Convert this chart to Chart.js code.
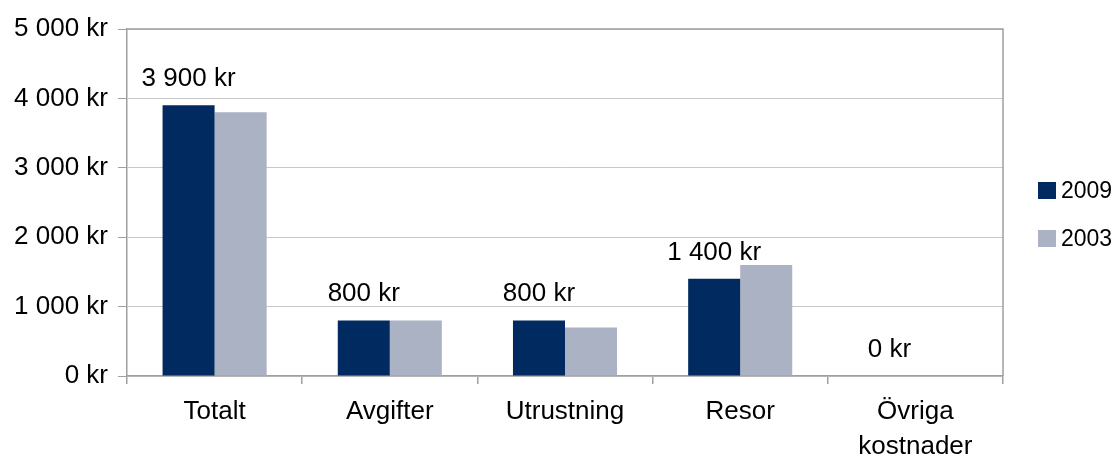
<!DOCTYPE html>
<html>
<head>
<meta charset="utf-8">
<script src="https://cdn.jsdelivr.net/npm/chart.js@4"></script>
<style>
  html, body { margin: 0; padding: 0; background: #fff; }
  #wrap { width: 1119px; height: 456px; }
</style>
</head>
<body>
<div id="wrap"><canvas id="barChart"></canvas></div>
<script>
const categories = ['Totalt', 'Avgifter', 'Utrustning', 'Resor', ['Övriga', 'kostnader']];
const values2009 = [3900, 800, 800, 1400, 0];
const values2003 = [3800, 800, 700, 1600, 0];
const seriesNames = ['2009', '2003'];

const COLORS = { dark: '#002a60', light: '#abb2c4' };
const FONT = '"Liberation Sans", Arial, sans-serif';

function formatKr(v) {
    return String(v).replace(/\B(?=(\d{3})+(?!\d))/g, ' ') + ' kr';
}

// frame round the plot area, value labels on 2009, legend at right
const extras = {
    id: 'extras',
    afterDraw(chart) {
        const ctx = chart.ctx;
        const a = chart.chartArea;
        ctx.save();
        ctx.strokeStyle = '#a0a0a0';
        ctx.lineWidth = 1.5;
        ctx.beginPath();
        ctx.moveTo(a.left, a.top);
        ctx.lineTo(a.right, a.top);
        ctx.lineTo(a.right, a.bottom);
        ctx.stroke();

        ctx.fillStyle = '#000';
        ctx.font = '26px ' + FONT;
        ctx.textAlign = 'center';
        ctx.textBaseline = 'alphabetic';
        chart.getDatasetMeta(0).data.forEach((bar, i) => {
            ctx.fillText(formatKr(values2009[i]), bar.x, bar.y - 19);
        });

        ctx.font = '23px ' + FONT;
        ctx.textAlign = 'left';
        const items = [[seriesNames[0], COLORS.dark], [seriesNames[1], COLORS.light]];
        items.forEach((it, i) => {
            const y = 182 + i * 48;
            ctx.fillStyle = it[1];
            ctx.fillRect(1038, y, 18, 17);
            ctx.fillStyle = '#000';
            ctx.fillText(it[0], 1061, y + 16);
        });
        ctx.restore();
    }
};

const barChart = new Chart(document.getElementById('barChart').getContext('2d'), {
    type: 'bar',
    data: {
        labels: categories,
        datasets: [
            { label: seriesNames[0], data: values2009, backgroundColor: COLORS.dark },
            { label: seriesNames[1], data: values2003, backgroundColor: COLORS.light }
        ]
    },
    options: {
        responsive: true,
        maintainAspectRatio: false,
        animation: false,
        layout: { padding: { left: 0, right: 116, top: 29, bottom: 0 } },
        datasets: { bar: { categoryPercentage: 0.594, barPercentage: 1.0 } },
        plugins: {
            legend: { display: false },
            tooltip: { enabled: false }
        },
        scales: {
            x: {
                afterFit(scale) { scale.height = 80; },
                grid: { display: true, drawOnChartArea: false, drawTicks: true, tickLength: 8, color: '#a0a0a0', lineWidth: 1.5, offset: true },
                border: { color: '#a0a0a0', width: 1.5 },
                ticks: { color: '#000', font: { family: FONT, size: 26, lineHeight: 1.35 }, padding: 10, maxRotation: 0, autoSkip: false }
            },
            y: {
                min: 0,
                max: 5000,
                afterFit(scale) { scale.width = 127; },
                grid: { color: '#c8c8c8', lineWidth: 1, tickLength: 9, tickColor: '#a0a0a0' },
                border: { color: '#a0a0a0', width: 1.5 },
                ticks: { stepSize: 1000, color: '#000', font: { family: FONT, size: 26 }, padding: 10, callback: v => formatKr(v) }
            }
        }
    },
    plugins: [extras]
});
</script>
</body>
</html>
